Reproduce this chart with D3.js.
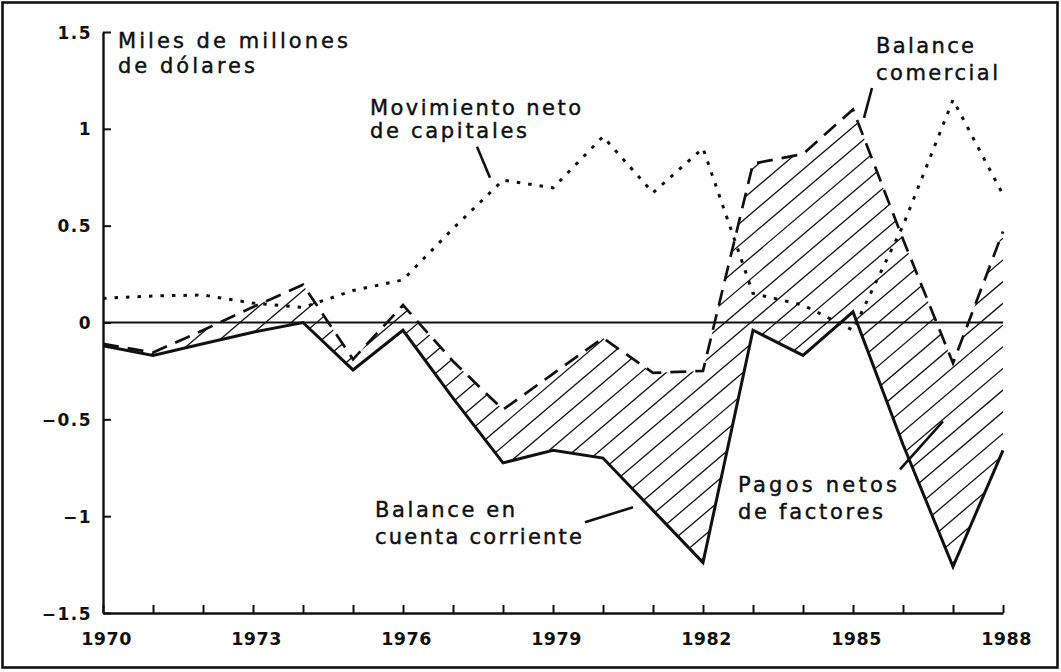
<!DOCTYPE html>
<html><head><meta charset="utf-8">
<script src="https://cdn.jsdelivr.net/npm/d3@7/dist/d3.min.js"></script>
<style>
html,body{margin:0;padding:0;background:#fff;}
svg{display:block;}
</style></head><body>
<svg id="chart" width="1061" height="672"></svg>
<script>
// ---------- data ----------
const years = [1970,1971,1972,1973,1974,1975,1976,1977,1978,1979,1980,1981,1982,1983,1984,1985,1986,1987,1988];
// Balance en cuenta corriente (solid)
const cuentaCorriente = [-0.12,-0.17,-0.11,-0.05,0.00,-0.245,-0.04,-0.39,-0.725,-0.66,-0.70,-0.97,-1.24,-0.04,-0.17,0.055,-0.63,-1.26,-0.66];
// Balance comercial (dashed)
const balanceComercial = [-0.11,-0.155,-0.04,0.08,0.195,-0.19,0.09,-0.20,-0.45,-0.265,-0.08,-0.26,-0.25,0.82,0.87,1.10,0.43,-0.21,0.47];
// Movimiento neto de capitales (dotted)
const movCapitales = [0.125,0.137,0.142,0.10,0.078,0.165,0.22,0.485,0.735,0.695,0.96,0.67,0.90,0.15,0.09,-0.04,0.50,1.15,0.66];

const xTickYears = [1970,1973,1976,1979,1982,1985,1988];
const yTickValues = [1.5,1,0.5,0,-0.5,-1,-1.5];
const yTickLabels = ["1.5","1","0.5","0","\u22120.5","\u22121","\u22121.5"];

// annotation texts (positions given in data units: year, value)
const annotations = [
  {lines:["Miles de millones","de dólares"], year:1970.30, value:[1.415,1.286], width:[230,137]},
  {lines:["Movimiento neto","de capitales"], year:1975.34, value:[1.072,0.954], width:[211,157]},
  {lines:["Balance","comercial"], year:1985.46, value:[1.389,1.253], width:[98,122]},
  {lines:["Balance en","cuenta corriente"], year:1975.44, value:[-1.005,-1.144], width:[140,207]},
  {lines:["Pagos netos","de factores"], year:1982.70, value:[-0.876,-1.015], width:[159,145]}
];
const leaders = [
  [[1977.48,0.907],[1977.74,0.747]],
  [[1985.38,1.211],[1985.22,1.057]],
  [[1979.64,-1.031],[1980.60,-0.954]],
  [[1985.94,-0.758],[1986.80,-0.510]]
];

// ---------- setup ----------
const svg = d3.select("#chart");
const W = 1061, H = 672;
svg.append("rect").attr("x",0).attr("y",0).attr("width",W).attr("height",H).attr("fill","#fff");
svg.append("rect").attr("x",2.5).attr("y",2.5).attr("width",W-6).attr("height",H-7)
  .attr("fill","none").attr("stroke","#111").attr("stroke-width",2.6);

const x = d3.scaleLinear().domain([1970,1988]).range([103,1003]);
const y = d3.scaleLinear().domain([-1.5,1.5]).range([613,32]);

const rows = years.map((yr,i)=>({year:yr, cc:cuentaCorriente[i], bc:balanceComercial[i], mc:movCapitales[i]}));

// ---------- hatched area between the two balances ----------
const area = d3.area().x(d=>x(d.year)).y0(d=>y(d.cc)).y1(d=>y(d.bc));
svg.append("clipPath").attr("id","hatchClip").append("path").attr("d", area(rows));
const hatchSlope = 0.85, hatchGap = 21.7;
const [xa, xb] = x.range();
const hatchG = svg.append("g").attr("clip-path","url(#hatchClip)");
hatchG.selectAll("line").data(d3.range(-60,25)).join("line")
  .attr("x1", xa).attr("x2", xb)
  .attr("y1", k => y(0) + 2.5 + k*hatchGap + hatchSlope*(xb-xa))
  .attr("y2", k => y(0) + 2.5 + k*hatchGap)
  .attr("stroke","#111").attr("stroke-width",1.3);

// zero line
svg.append("line").attr("x1",xa).attr("x2",xb).attr("y1",y(0)).attr("y2",y(0))
  .attr("stroke","#111").attr("stroke-width",1.8);

// ---------- lines ----------
const line = key => d3.line().x(d=>x(d.year)).y(d=>y(d[key]));
svg.append("path").attr("d", line("mc")(rows)).attr("fill","none")
  .attr("stroke","#111").attr("stroke-width",3).attr("stroke-dasharray","3.5,8");
svg.append("path").attr("d", line("bc")(rows)).attr("fill","none")
  .attr("stroke","#111").attr("stroke-width",2.7).attr("stroke-dasharray","16,9");
svg.append("path").attr("d", line("cc")(rows)).attr("fill","none")
  .attr("stroke","#111").attr("stroke-width",3).attr("stroke-linejoin","miter");

// ---------- axes ----------
const yAxis = d3.axisLeft(y).tickValues(yTickValues)
  .tickFormat((d,i)=>yTickLabels[i]).tickSize(-8).tickSizeOuter(0).tickPadding(11);
const gy = svg.append("g").attr("transform",`translate(${xa},0)`).call(yAxis);
const xAxis = d3.axisBottom(x).tickValues(years)
  .tickFormat(d=> xTickYears.includes(d) ? String(d) : "").tickSize(-8).tickSizeOuter(0).tickPadding(20);
const gx = svg.append("g").attr("transform",`translate(0,${y(-1.5)})`).call(xAxis);
[gx,gy].forEach(g=>{
  g.select(".domain").attr("stroke","#111").attr("stroke-width",2.4);
  g.selectAll(".tick line").attr("stroke","#111").attr("stroke-width",2);
  g.selectAll("text").attr("fill","#111").attr("font-family","DejaVu Sans")
    .attr("font-weight","bold");
});
gy.selectAll("text").attr("font-size",17).attr("letter-spacing","1.5px").attr("dy","0.36em");
gx.selectAll("text").attr("font-size",17.5).attr("dx",3).attr("letter-spacing","0.5px");

// ---------- annotations ----------
annotations.forEach(a=>{
  a.lines.forEach((t,i)=>{
    svg.append("text").attr("x",x(a.year)).attr("y",y(a.value[i]))
      .attr("font-family","DejaVu Sans").attr("font-size",21).attr("fill","#111")
      .attr("stroke","#111").attr("stroke-width",0.45)
      .attr("textLength",a.width[i]).attr("lengthAdjust","spacing")
      .text(t);
  });
});
svg.selectAll(".leader").data(leaders).join("line").attr("class","leader")
  .attr("x1",d=>x(d[0][0])).attr("y1",d=>y(d[0][1]))
  .attr("x2",d=>x(d[1][0])).attr("y2",d=>y(d[1][1]))
  .attr("stroke","#111").attr("stroke-width",2.6);
</script>
</body></html>
